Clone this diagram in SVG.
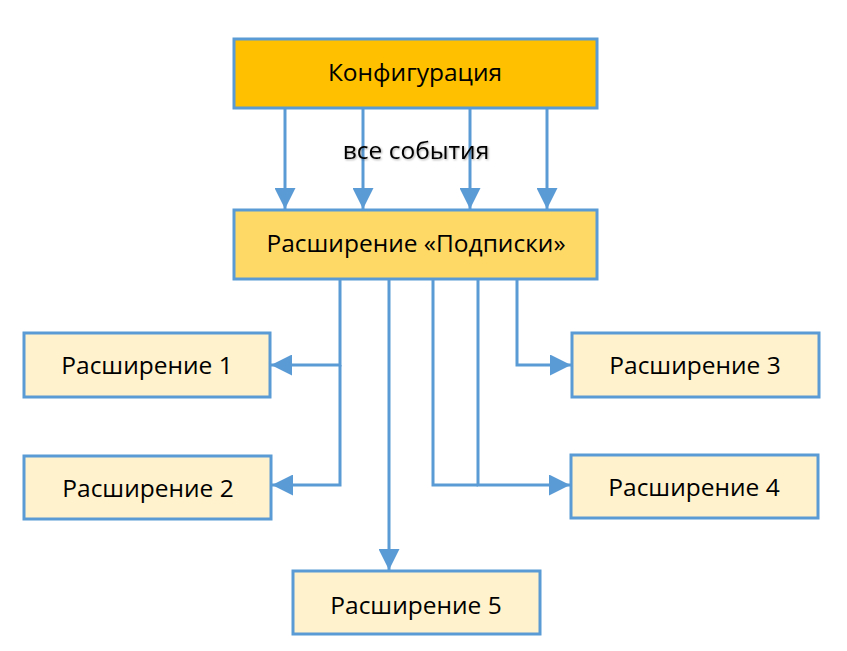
<svg xmlns="http://www.w3.org/2000/svg" width="847" height="651" viewBox="0 0 847 651">
<defs>
<marker id="ah" viewBox="0 0 10 10" refX="10" refY="5" markerWidth="7" markerHeight="7" markerUnits="strokeWidth" orient="auto">
<path d="M0,0 L10,5 L0,10 Z" fill="#5B9BD5"/>
</marker>
<filter id="sh" x="-10%" y="-30%" width="120%" height="160%">
<feDropShadow dx="1" dy="1" stdDeviation="0.8" flood-color="#000" flood-opacity="0.35"/>
</filter>
</defs>
<style>
.box{stroke:#5B9BD5;stroke-width:3}
.t{font-family:"Open Sans","Noto Sans","DejaVu Sans",sans-serif;font-size:24.5px;fill:#000;text-anchor:middle;dominant-baseline:central}
.c{fill:none;stroke:#5B9BD5;stroke-width:3;marker-end:url(#ah)}
.l{fill:none;stroke:#5B9BD5;stroke-width:3}
</style>
<rect width="847" height="651" fill="#fff"/>
<g id="connectors">
<line class="c" x1="285" y1="108" x2="285" y2="209"/>
<line class="c" x1="363" y1="108" x2="363" y2="209"/>
<line class="c" x1="470" y1="108" x2="470" y2="209"/>
<line class="c" x1="547" y1="108" x2="547" y2="209"/>
<polyline class="c" points="340,280 340,365 271,365"/>
<polyline class="c" points="340,365 340,485 272,485"/>
<line class="c" x1="389" y1="280" x2="389" y2="570"/>
<polyline class="l" points="433,280 433,485 478,485"/>
<polyline class="c" points="478,280 478,485 570,485"/>
<polyline class="c" points="517,280 517,365 571,365"/>
</g>
<g id="config">
<rect class="box" x="234" y="39" width="363" height="69" fill="#FFC000"/>
<text class="t" x="415" y="71">Конфигурация</text>
</g>
<g id="label">
<text class="t" x="416" y="149" filter="url(#sh)">все события</text>
</g>
<g id="podpiski">
<rect class="box" x="234" y="210" width="363" height="69" fill="#FFD966"/>
<text class="t" x="416" y="242">Расширение «Подписки»</text>
</g>
<g id="ext1">
<rect class="box" x="24" y="333" width="246" height="64" fill="#FFF2CC"/>
<text class="t" x="147" y="364">Расширение 1</text>
</g>
<g id="ext2">
<rect class="box" x="24" y="456" width="247" height="63" fill="#FFF2CC"/>
<text class="t" x="148" y="487">Расширение 2</text>
</g>
<g id="ext3">
<rect class="box" x="572" y="333" width="247" height="64" fill="#FFF2CC"/>
<text class="t" x="695" y="364">Расширение 3</text>
</g>
<g id="ext4">
<rect class="box" x="571" y="455" width="247" height="63" fill="#FFF2CC"/>
<text class="t" x="694" y="486">Расширение 4</text>
</g>
<g id="ext5">
<rect class="box" x="293" y="571" width="247" height="63" fill="#FFF2CC"/>
<text class="t" x="416" y="604">Расширение 5</text>
</g>
</svg>
